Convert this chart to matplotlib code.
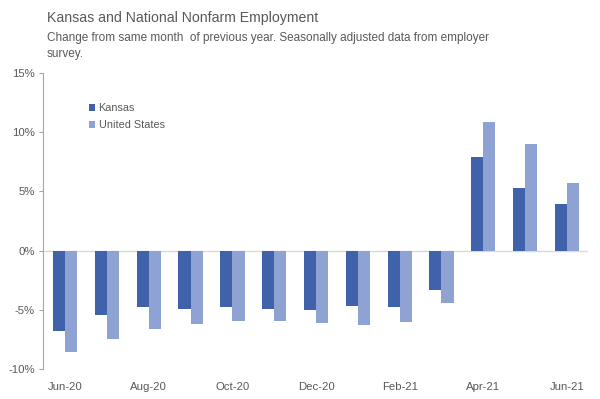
import matplotlib.pyplot as plt
import numpy as np

months = ['Jun-20', 'Jul-20', 'Aug-20', 'Sep-20', 'Oct-20', 'Nov-20', 'Dec-20',
          'Jan-21', 'Feb-21', 'Mar-21', 'Apr-21', 'May-21', 'Jun-21']
kansas = [-6.75, -5.4, -4.8, -4.9, -4.75, -4.9, -5.0, -4.7, -4.75, -3.35, 7.9, 5.3, 3.9]
united_states = [-8.55, -7.5, -6.6, -6.2, -5.9, -5.9, -6.15, -6.25, -6.0, -4.45, 10.9, 9.0, 5.7]

KS_COLOR = '#3f62aa'
US_COLOR = '#8ea3d3'
TEXT_COLOR = '#595959'

plt.rcParams['font.family'] = ['Liberation Sans', 'DejaVu Sans']


def main():
    fig = plt.figure(figsize=(6, 3.99), dpi=100)
    ax = fig.add_axes([0.0717, 0.075, 0.908, 0.742])

    x = np.arange(len(months))
    w = 0.29
    ax.bar(x - w / 2, kansas, width=w, color=KS_COLOR, label='Kansas')
    ax.bar(x + w / 2, united_states, width=w, color=US_COLOR, label='United States')

    ax.axhline(0, color='#d9d9d9', linewidth=1, zorder=0)
    ax.set_xlim(-0.53, 12.5)
    ax.set_ylim(-10, 15)
    ax.set_yticks([-10, -5, 0, 5, 10, 15])
    ax.set_yticklabels(['%d%%' % v for v in [-10, -5, 0, 5, 10, 15]])
    ax.set_xticks(x[::2])
    ax.set_xticklabels(months[::2])

    for s in ['top', 'right', 'bottom']:
        ax.spines[s].set_visible(False)
    ax.spines['left'].set_color('#a6a6a6')
    ax.tick_params(axis='y', colors='#a6a6a6', labelcolor=TEXT_COLOR, labelsize=8.2,
                   length=3, pad=3)
    ax.tick_params(axis='x', length=0, labelcolor=TEXT_COLOR, labelsize=8.2, pad=9)

    ax.legend(loc='upper left', bbox_to_anchor=(0.084, 0.898), frameon=False, fontsize=7.8,
              labelcolor=TEXT_COLOR, handlelength=0.55, handleheight=0.55, handletextpad=0.35,
              labelspacing=0.65, borderpad=0, borderaxespad=0)

    fig.text(0.078, 0.954, 'Kansas and National Nonfarm Employment', fontsize=10.2,
             color=TEXT_COLOR, ha='left', va='center')
    fig.text(0.078, 0.904, 'Change from same month  of previous year. Seasonally adjusted data from employer',
             fontsize=8.5, color=TEXT_COLOR, ha='left', va='center')
    fig.text(0.078, 0.864, 'survey.', fontsize=8.5, color=TEXT_COLOR, ha='left', va='center')

    fig.savefig('out.png', dpi=100)


if __name__ == '__main__':
    main()
